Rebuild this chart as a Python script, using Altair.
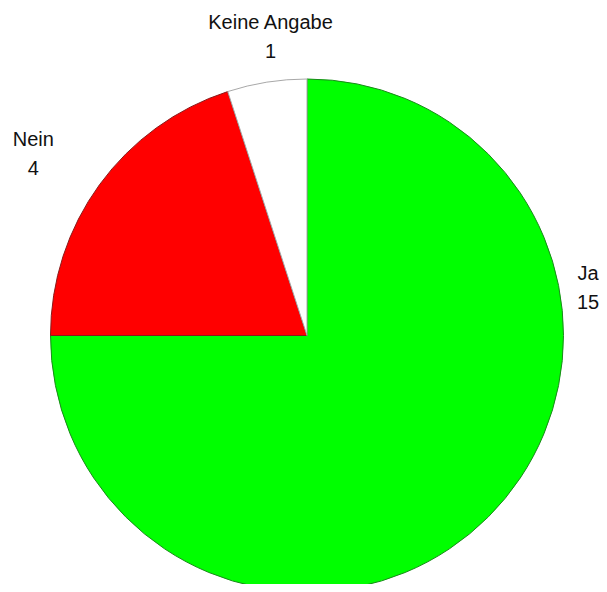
import altair as alt
import pandas as pd

categories = ["Ja", "Nein", "Keine Angabe"]
values = [15, 4, 1]
fill_colors = ["#00ff00", "#ff0000", "#ffffff"]
stroke_colors = ["#1a8a1a", "#8a1a1a", "#a8a8a8"]

df = pd.DataFrame({
    "cat": categories,
    "val": values,
    "idx": list(range(len(categories))),
})
df["label"] = df["cat"] + "\n" + df["val"].astype(str)

base = alt.Chart(df)

pie = base.mark_arc(x=299, y=327.5, radius=256.5, strokeWidth=1).encode(
    theta=alt.Theta("val:Q", stack=True),
    order=alt.Order("idx:Q"),
    color=alt.Color("cat:N", scale=alt.Scale(domain=categories, range=fill_colors), legend=None),
    stroke=alt.Stroke("cat:N", scale=alt.Scale(domain=categories, range=stroke_colors), legend=None),
)

label_pos = {"Ja": (580, 272), "Nein": (25.3, 138), "Keine Angabe": (262.5, 21.3)}
layers = [pie]
for c in categories:
    lx, ly = label_pos[c]
    layers.append(
        base.transform_filter(alt.datum.cat == c)
        .mark_text(x=lx, y=ly, align="center", baseline="alphabetic",
                   font="Liberation Sans", fontSize=20, lineHeight=29,
                   lineBreak="\n", color="#111111")
        .encode(text="label:N")
    )

chart = alt.layer(*layers).properties(
    width=591, height=576, padding=0,
    autosize=alt.AutoSizeParams(type="none"),
).configure_view(stroke=None)

chart.save("out.html", embed_options={"renderer": "svg", "actions": False})
